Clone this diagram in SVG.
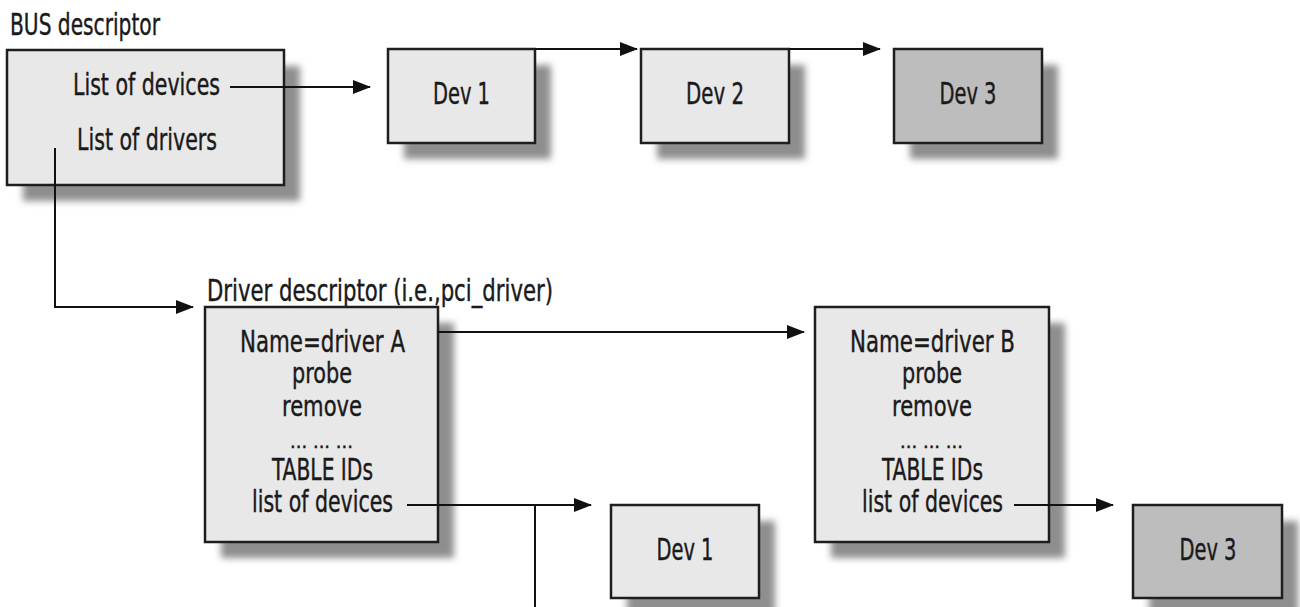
<svg xmlns="http://www.w3.org/2000/svg" width="1300" height="607" viewBox="0 0 1300 607">
<defs>
<filter id="blur" x="-20%" y="-20%" width="140%" height="140%"><feGaussianBlur stdDeviation="3.5"/></filter>
<marker id="arr" markerWidth="18" markerHeight="14" refX="17" refY="7" orient="auto" markerUnits="userSpaceOnUse"><path d="M0,0 L18,7 L0,14 Z" fill="#111"/></marker>
<style>
text{font-family:"DejaVu Sans Condensed","DejaVu Sans","Liberation Sans",sans-serif;font-stretch:condensed;font-size:30px;fill:#1a1a1a;stroke:#1a1a1a;stroke-width:0.4}
.m{text-anchor:middle}
.s{font-size:28px}
.box{fill:#e8e8e8;stroke:#1e1e1e;stroke-width:2.5}
.dark{fill:#bdbdbd}
.sh{fill:#8e8e8e;filter:url(#blur)}
.ln{fill:none;stroke:#111;stroke-width:2}
</style>
</defs>
<rect width="1300" height="607" fill="#fff"/>

<g id="bus">
<text x="10" y="35" textLength="150" lengthAdjust="spacingAndGlyphs">BUS descriptor</text>
<rect class="sh" x="23" y="66" width="277" height="135"/>
<rect class="box" x="7" y="50" width="277" height="135"/>
<text x="73" y="95" textLength="147" lengthAdjust="spacingAndGlyphs">List of devices</text>
<text x="77" y="150" textLength="140" lengthAdjust="spacingAndGlyphs">List of drivers</text>
</g>

<g id="dev1-top">
<rect class="sh" x="404" y="65" width="147" height="94"/>
<rect class="box" x="388" y="49" width="147" height="94"/>
<text class="m" x="461.5" y="104" textLength="57" lengthAdjust="spacingAndGlyphs">Dev 1</text>
</g>
<g id="dev2-top">
<rect class="sh" x="657" y="65" width="148" height="94"/>
<rect class="box" x="641" y="49" width="148" height="94"/>
<text class="m" x="715" y="104" textLength="58" lengthAdjust="spacingAndGlyphs">Dev 2</text>
</g>
<g id="dev3-top">
<rect class="sh" x="910" y="65" width="148" height="94"/>
<rect class="box dark" x="894" y="49" width="148" height="94"/>
<text class="m" x="968" y="104" textLength="57" lengthAdjust="spacingAndGlyphs">Dev 3</text>
</g>

<g id="driverA">
<text x="207" y="301" textLength="346" lengthAdjust="spacingAndGlyphs">Driver descriptor (i.e.,pci_driver)</text>
<rect class="sh" x="221" y="323" width="233" height="235"/>
<rect class="box" x="205" y="307" width="233" height="235"/>
<text class="m" x="322.5" y="352" textLength="165" lengthAdjust="spacingAndGlyphs">Name=driver A</text>
<text class="m s" x="322" y="383" textLength="60" lengthAdjust="spacingAndGlyphs">probe</text>
<text class="m s" x="322" y="416" textLength="80" lengthAdjust="spacingAndGlyphs">remove</text>
<text class="m" x="321.5" y="448" textLength="63" lengthAdjust="spacingAndGlyphs" style="font-size:18px">... ... ...</text>
<text class="m" x="322.5" y="480" textLength="101" lengthAdjust="spacingAndGlyphs">TABLE IDs</text>
<text class="m" x="322.5" y="512" textLength="141" lengthAdjust="spacingAndGlyphs">list of devices</text>
</g>

<g id="driverB">
<rect class="sh" x="831" y="323" width="234" height="235"/>
<rect class="box" x="815" y="307" width="234" height="235"/>
<text class="m" x="932.5" y="352" textLength="165" lengthAdjust="spacingAndGlyphs">Name=driver B</text>
<text class="m s" x="932" y="383" textLength="60" lengthAdjust="spacingAndGlyphs">probe</text>
<text class="m s" x="932" y="416" textLength="80" lengthAdjust="spacingAndGlyphs">remove</text>
<text class="m" x="931.5" y="448" textLength="63" lengthAdjust="spacingAndGlyphs" style="font-size:18px">... ... ...</text>
<text class="m" x="932.5" y="480" textLength="101" lengthAdjust="spacingAndGlyphs">TABLE IDs</text>
<text class="m" x="932.5" y="512" textLength="141" lengthAdjust="spacingAndGlyphs">list of devices</text>
</g>

<g id="dev1-bottom">
<rect class="sh" x="627" y="521" width="148" height="93"/>
<rect class="box" x="611" y="505" width="148" height="93"/>
<text class="m" x="685" y="560" textLength="57" lengthAdjust="spacingAndGlyphs">Dev 1</text>
</g>
<g id="dev3-bottom">
<rect class="sh" x="1149" y="521" width="149" height="93"/>
<rect class="box dark" x="1133" y="505" width="149" height="93"/>
<text class="m" x="1208" y="560" textLength="57" lengthAdjust="spacingAndGlyphs">Dev 3</text>
</g>

<g id="connectors">
<path class="ln" d="M230,87 H370" marker-end="url(#arr)"/>
<path class="ln" d="M535,49 H637" marker-end="url(#arr)"/>
<path class="ln" d="M789,49 H880" marker-end="url(#arr)"/>
<path class="ln" d="M55,148 V307 H193" marker-end="url(#arr)"/>
<path class="ln" d="M438,332 H804" marker-end="url(#arr)"/>
<path class="ln" d="M407,505 H591" marker-end="url(#arr)"/>
<path class="ln" d="M535,505 V607"/>
<path class="ln" d="M1014,505 H1113" marker-end="url(#arr)"/>
</g>
</svg>
